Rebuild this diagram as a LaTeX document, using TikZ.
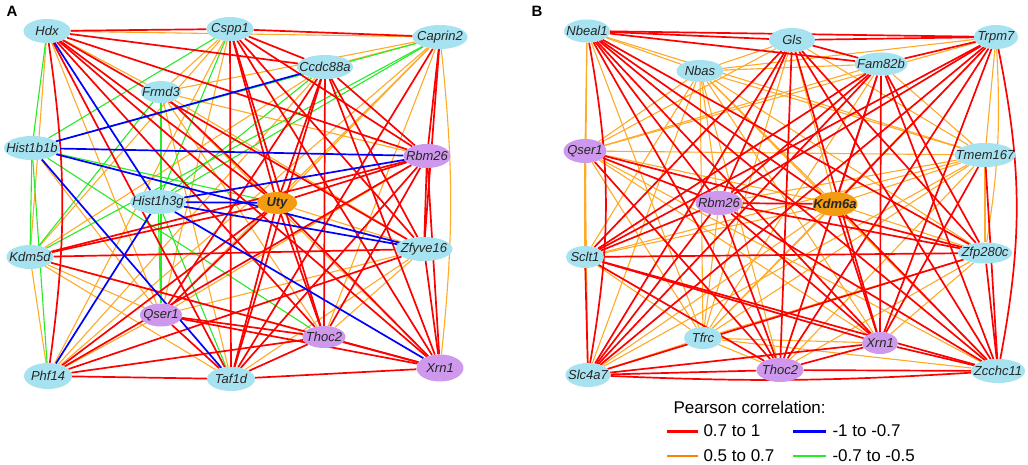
\documentclass[tikz,border=0pt]{standalone}
\usepackage{fontspec}
\setmainfont{Liberation Sans}
\usetikzlibrary{shapes.geometric, backgrounds}
\definecolor{genblue}{RGB}{166,226,240}
\definecolor{genpurple}{RGB}{206,152,236}
\definecolor{genorange}{RGB}{243,156,18}
\definecolor{posred}{RGB}{255,0,0}
\definecolor{posorange}{RGB}{255,170,40}
\definecolor{legorange}{RGB}{255,128,0}
\definecolor{negblue}{RGB}{0,0,255}
\definecolor{neggreen}{RGB}{40,235,40}
\newcommand{\gn}[1]{\makebox[0pt]{#1}}

\begin{document}
\begin{tikzpicture}[x=1pt, y=-1pt,
  gene/.style={ellipse, fill=genblue, inner sep=0pt, minimum height=24, minimum width=#1,
    font=\fontsize{13}{13}\selectfont\itshape, text=black!85},
  gene/.default=47,
  purp/.style={fill=genpurple},
  hub/.style={fill=genorange, font=\fontsize{13}{13}\selectfont\bfseries\itshape},
  redlink/.style={posred, line width=1.7},
  orlink/.style={posorange, line width=1.1},
  bluelink/.style={negblue, line width=1.7},
  greenlink/.style={neggreen, line width=1.1},
  legtext/.style={anchor=west, font=\fontsize{17}{20}\selectfont},
  panel/.style={font=\fontsize{15}{15}\selectfont\bfseries}]
  \useasboundingbox (0,0) rectangle (1028,465);

  % panel A genes
  \node[panel] (labA) at (12,11) {A};
  \node[gene=47] (hdx) at (47,31) {\gn{Hdx}};
  \node[gene=47] (cspp) at (230,29) {\gn{Cspp1}};
  \node[gene=55] (capr) at (440,37) {\gn{Caprin2}};
  \node[gene=56] (ccdc) at (325,67) {\gn{Ccdc88a}};
  \node[gene=40, minimum height=22] (frmd) at (161,92) {\gn{Frmd3}};
  \node[gene=56] (hisb) at (32,148) {\gn{Hist1b1b}};
  \node[gene=47, purp] (rbmA) at (427,156) {\gn{Rbm26}};
  \node[gene=56] (hish) at (158,202) {\gn{Hist1h3g}};
  \node[gene=40, hub, minimum height=22] (uty) at (277,203) {\gn{Uty}};
  \node[gene=57] (zfyv) at (424,249) {\gn{Zfyve16}};
  \node[gene=47] (kdm) at (30,257) {\gn{Kdm5d}};
  \node[gene=42, purp, minimum height=23] (qserA) at (161,315) {\gn{Qser1}};
  \node[gene=43, purp, minimum height=22] (thocA) at (324,337) {\gn{Thoc2}};
  \node[gene=47, purp, minimum height=27] (xrnA) at (440,368) {\gn{Xrn1}};
  \node[gene=48, minimum height=26] (phf) at (48,376) {\gn{Phf14}};
  \node[gene=48] (taf) at (231,379) {\gn{Taf1d}};

  % panel B genes
  \node[panel] (labB) at (537,11) {B};
  \node[gene=46, minimum height=23] (nbeal) at (587,31) {\gn{Nbeal1}};
  \node[gene=46] (gls) at (792,40) {\gn{Gls}};
  \node[gene=44] (trpm) at (996,37) {\gn{Trpm7}};
  \node[gene=47, minimum height=22] (nbas) at (700,71) {\gn{Nbas}};
  \node[gene=53, minimum height=23] (fam) at (881,64) {\gn{Fam82b}};
  \node[gene=43, purp] (qserB) at (585,151) {\gn{Qser1}};
  \node[gene=61] (tmem) at (985,155) {\gn{Tmem167}};
  \node[gene=47, purp] (rbmB) at (719,203) {\gn{Rbm26}};
  \node[gene=45, hub] (kdma) at (835,204) {\gn{Kdm6a}};
  \node[gene=38, minimum height=22] (sclt) at (585,257) {\gn{Sclt1}};
  \node[gene=54, minimum height=21] (zfp) at (985,253) {\gn{Zfp280c}};
  \node[gene=38, minimum height=22] (tfrc) at (703,338) {\gn{Tfrc}};
  \node[gene=36, purp, minimum height=22] (xrnB) at (880,343) {\gn{Xrn1}};
  \node[gene=45] (slc) at (588,375) {\gn{Slc4a7}};
  \node[gene=47, purp] (thocB) at (780,370) {\gn{Thoc2}};
  \node[gene=54] (zcch) at (998,371) {\gn{Zcchc11}};

  \begin{scope}[on background layer]
    \fill[white] (0,0) rectangle (1028,465);
    % 0.5 to 0.7
    \foreach \a/\b in {hdx/capr, hdx/frmd, hdx/kdm, hdx/qserA, cspp/frmd, cspp/kdm, cspp/qserA, cspp/phf,
        capr/ccdc, capr/frmd, capr/uty, capr/qserA, capr/thocA, capr/phf, ccdc/kdm, ccdc/phf,
        frmd/rbmA, frmd/zfyv, frmd/thocA, frmd/xrnA, frmd/taf, hisb/qserA, rbmA/qserA, uty/zfyv,
        zfyv/qserA, zfyv/thocA, zfyv/taf, kdm/qserA, kdm/thocA, kdm/phf, kdm/taf, qserA/phf,
        nbeal/nbas, nbeal/qserB, nbeal/tmem, nbeal/sclt, nbeal/tfrc, gls/nbas, gls/qserB, gls/tmem,
        gls/kdma, gls/tfrc, trpm/nbas, trpm/qserB, trpm/tmem, trpm/tfrc, nbas/fam, nbas/qserB,
        nbas/tmem, nbas/rbmB, nbas/kdma, nbas/sclt, nbas/zfp, nbas/tfrc, nbas/xrnB, nbas/slc,
        nbas/thocB, nbas/zcch, fam/qserB, fam/tmem, fam/tfrc, qserB/tmem, qserB/kdma, qserB/sclt,
        qserB/tfrc, qserB/xrnB, qserB/slc, qserB/zcch, tmem/rbmB, tmem/kdma, tmem/sclt, tmem/zfp,
        tmem/tfrc, tmem/slc, tmem/thocB, rbmB/tfrc, kdma/sclt, kdma/zfp, kdma/tfrc, kdma/slc,
        kdma/thocB, sclt/tfrc, zfp/tfrc, zfp/xrnB, zfp/thocB, tfrc/xrnB, tfrc/slc, tfrc/thocB,
        tfrc/zcch}
      \draw[orlink] (\a) -- (\b);
    \draw[orlink] (capr) to[bend left=6] (xrnA);
    \draw[orlink] (trpm) to[bend left=6] (zfp);
    % -0.7 to -0.5
    \foreach \a/\b in {hdx/hisb, cspp/hisb, cspp/hish, capr/hisb, capr/hish, capr/kdm, ccdc/hish,
        frmd/kdm, frmd/qserA, hisb/uty, hisb/kdm, hisb/thocA, hisb/phf, hish/qserA, hish/taf}
      \draw[greenlink] (\a) -- (\b);
    % 0.7 to 1
    \foreach \a/\b in {hdx/cspp, hdx/ccdc, hdx/rbmA, hdx/uty, hdx/zfyv, hdx/thocA, hdx/xrnA, hdx/taf,
        cspp/capr, cspp/ccdc, cspp/rbmA, cspp/uty, cspp/zfyv, cspp/thocA, cspp/xrnA, cspp/taf,
        capr/rbmA, capr/zfyv, capr/taf, ccdc/rbmA, ccdc/uty, ccdc/zfyv, ccdc/qserA, ccdc/thocA,
        ccdc/xrnA, ccdc/taf, frmd/uty, rbmA/uty, rbmA/zfyv, rbmA/kdm, rbmA/thocA, rbmA/xrnA,
        rbmA/phf, rbmA/taf, uty/kdm, uty/qserA, uty/thocA, uty/xrnA, uty/phf, uty/taf, zfyv/kdm,
        zfyv/xrnA, zfyv/phf, kdm/xrnA, qserA/thocA, qserA/xrnA, qserA/taf, thocA/xrnA, thocA/phf,
        thocA/taf, xrnA/taf, phf/taf,
        nbeal/gls, nbeal/trpm, nbeal/fam, nbeal/rbmB, nbeal/kdma, nbeal/zfp, nbeal/xrnB,
        nbeal/thocB, nbeal/zcch, gls/trpm, gls/fam, gls/rbmB, gls/sclt, gls/zfp, gls/xrnB, gls/slc,
        gls/thocB, gls/zcch, trpm/fam, trpm/rbmB, trpm/kdma, trpm/sclt, trpm/xrnB, trpm/slc,
        trpm/thocB, fam/rbmB, fam/kdma, fam/sclt, fam/zfp, fam/xrnB, fam/slc, fam/thocB, fam/zcch,
        qserB/rbmB, qserB/zfp, qserB/thocB, tmem/xrnB, tmem/zcch, rbmB/kdma, rbmB/sclt, rbmB/zfp,
        rbmB/xrnB, rbmB/slc, rbmB/thocB, rbmB/zcch, kdma/xrnB, kdma/zcch, sclt/zfp, sclt/xrnB,
        sclt/slc, sclt/thocB, sclt/zcch, zfp/slc, zfp/zcch, xrnB/slc, xrnB/thocB, xrnB/zcch,
        slc/thocB, thocB/zcch}
      \draw[redlink] (\a) -- (\b);
    \draw[redlink] (hdx) to[bend left=8] (phf);
    \draw[redlink] (nbeal) to[bend left=10] (slc);
    \draw[redlink] (trpm) to[bend left=11] (zcch);
    \draw[redlink] (slc) to[bend right=3] (zcch);
    % -1 to -0.7
    \foreach \a/\b in {hish/hdx, hish/uty, hish/rbmA, hish/zfyv, hish/xrnA, hish/phf,
        hisb/ccdc, hisb/rbmA, hisb/zfyv, hisb/taf}
      \draw[bluelink] (\a) -- (\b);
  \end{scope}

  % legend
  \node[legtext] (legtitle) at (670,407) {Pearson correlation:};
  \draw[posred, line width=3] (667,431) -- (698,431);
  \node[legtext] (legred) at (700,431) {0.7 to 1};
  \draw[legorange, line width=2] (667,456) -- (698,456);
  \node[legtext] (legorange) at (700,456) {0.5 to 0.7};
  \draw[negblue, line width=3] (793,431) -- (826,431);
  \node[legtext] (legblue) at (829,431) {-1 to -0.7};
  \draw[neggreen, line width=2] (793,456) -- (826,456);
  \node[legtext] (leggreen) at (829,456) {-0.7 to -0.5};
\end{tikzpicture}
\end{document}
